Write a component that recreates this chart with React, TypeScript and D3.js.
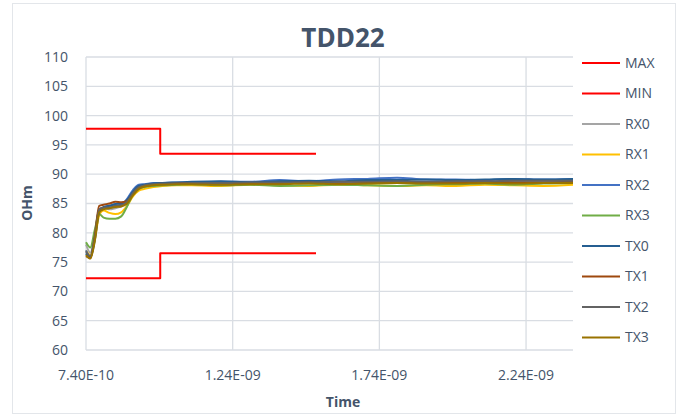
import * as d3 from 'd3'

// Time samples (seconds)
const TIMES = [
  7.40e-10, 7.55e-10, 7.70e-10, 7.85e-10, 8.00e-10, 8.20e-10, 8.40e-10, 8.60e-10,
  8.80e-10, 9.00e-10, 9.20e-10, 9.40e-10, 9.70e-10, 1.00e-9, 1.05e-9, 1.10e-9,
  1.20e-9, 1.30e-9, 1.40e-9, 1.50e-9, 1.60e-9, 1.70e-9, 1.80e-9, 1.90e-9,
  2.00e-9, 2.10e-9, 2.20e-9, 2.30e-9, 2.40e-9,
]

const RX0 = [78.0, 76.6, 80.0, 84.0, 84.2, 84.0, 84.2, 84.5, 85.5, 87.0, 87.9, 88.1, 88.2, 88.3, 88.4, 88.5, 88.4, 88.5, 88.6, 88.5, 88.6, 88.6, 88.7, 88.6, 88.7, 88.7, 88.8, 88.7, 88.7]
const RX1 = [77.0, 76.2, 78.8, 83.0, 83.8, 83.4, 83.2, 83.5, 84.6, 86.2, 87.2, 87.5, 87.8, 88.0, 88.1, 88.1, 88.0, 88.2, 88.1, 88.0, 88.2, 88.1, 88.0, 88.1, 88.0, 88.2, 88.1, 88.0, 88.2]
const RX2 = [77.0, 75.9, 79.5, 84.0, 84.3, 84.6, 84.6, 84.8, 85.8, 87.3, 88.2, 88.3, 88.5, 88.5, 88.6, 88.6, 88.7, 88.7, 89.0, 88.8, 89.1, 89.2, 89.4, 89.1, 89.1, 89.0, 89.2, 89.1, 89.2]
const RX3 = [78.4, 77.5, 80.5, 83.2, 82.6, 82.4, 82.4, 82.8, 84.5, 86.5, 87.5, 87.8, 88.0, 88.1, 88.2, 88.3, 88.1, 88.2, 88.0, 88.1, 88.2, 88.1, 88.0, 88.2, 88.3, 88.4, 88.2, 88.4, 88.5]
const TX0 = [76.5, 75.8, 78.8, 83.6, 84.4, 84.6, 84.9, 85.0, 85.6, 87.0, 88.0, 88.2, 88.4, 88.5, 88.6, 88.7, 88.8, 88.6, 88.8, 88.9, 88.8, 89.0, 89.0, 89.1, 89.0, 89.1, 89.2, 89.1, 89.2]
const TX1 = [76.0, 75.7, 79.5, 84.6, 84.8, 85.0, 85.3, 85.2, 85.4, 86.6, 87.6, 88.0, 88.2, 88.3, 88.4, 88.5, 88.4, 88.5, 88.5, 88.6, 88.4, 88.5, 88.6, 88.5, 88.6, 88.7, 88.6, 88.6, 88.7]
const TX2 = [76.8, 76.0, 79.2, 84.0, 84.3, 84.3, 84.6, 84.7, 85.3, 86.8, 87.8, 88.1, 88.3, 88.4, 88.4, 88.5, 88.5, 88.6, 88.6, 88.6, 88.7, 88.7, 88.8, 88.7, 88.8, 88.8, 88.9, 88.9, 88.9]
const TX3 = [76.2, 75.6, 78.6, 83.5, 84.0, 84.2, 84.4, 84.5, 85.0, 86.4, 87.5, 87.9, 88.1, 88.2, 88.3, 88.3, 88.2, 88.3, 88.3, 88.4, 88.3, 88.4, 88.5, 88.4, 88.4, 88.5, 88.4, 88.5, 88.5]

// Limit masks
const LIMIT_TIMES = [7.40e-10, 9.93e-10, 9.93e-10, 1.524e-9]
const MAX = [97.75, 97.75, 93.5, 93.5]
const MIN = [72.25, 72.25, 76.5, 76.5]

const SERIES = [
  { name: 'MAX', t: LIMIT_TIMES, v: MAX, color: '#FF0000', limit: true },
  { name: 'MIN', t: LIMIT_TIMES, v: MIN, color: '#FF0000', limit: true },
  { name: 'RX0', t: TIMES, v: RX0, color: '#A5A5A5' },
  { name: 'RX1', t: TIMES, v: RX1, color: '#FFC000' },
  { name: 'RX2', t: TIMES, v: RX2, color: '#4472C4' },
  { name: 'RX3', t: TIMES, v: RX3, color: '#70AD47' },
  { name: 'TX0', t: TIMES, v: TX0, color: '#255E91' },
  { name: 'TX1', t: TIMES, v: TX1, color: '#9E480E' },
  { name: 'TX2', t: TIMES, v: TX2, color: '#636363' },
  { name: 'TX3', t: TIMES, v: TX3, color: '#997300' },
]

const X_TICKS = [7.4e-10, 1.24e-9, 1.74e-9, 2.24e-9]
const Y_TICKS = [60, 65, 70, 75, 80, 85, 90, 95, 100, 105, 110]

const TEXT = '#44546A'
const GRID = '#D9DDE3'
const FONT = "'Open Sans', sans-serif"

const fmtExp = (v: number) => {
  const [m, e] = v.toExponential(2).toUpperCase().split('E')
  const sign = e[0] === '-' ? '-' : '+'
  const digits = e.replace(/[+-]/, '').padStart(2, '0')
  return `${m}E${sign === '-' ? '-' : ''}${digits}`
}

export default function App() {
  const width = 689
  const height = 417
  const x = d3.scaleLinear().domain([7.4e-10, 2.4e-9]).range([86, 573])
  const y = d3.scaleLinear().domain([60, 110]).range([350, 57])

  const line = (s: typeof SERIES[number]) =>
    d3.line<number>()
      .x((_, i) => x(s.t[i]))
      .y(d => y(d))
      .curve(s.limit ? d3.curveLinear : d3.curveMonotoneX)(s.v) || ''

  return (
    <div style={{ position: 'absolute', left: 0, top: 0 }}>
      <svg width={width} height={height} fontFamily={FONT}>
        <rect x={0} y={0} width={width} height={height} fill="#fff" />
        <rect x={12.5} y={3.5} width={663} height={410} fill="none" stroke="#E3E6EA" />

        <text x={343} y={47} textAnchor="middle" fontSize={26} fontWeight={700} fill={TEXT}>
          TDD22
        </text>

        {/* gridlines */}
        {Y_TICKS.map(t => (
          <line key={'gy' + t} x1={x.range()[0]} x2={x.range()[1]} y1={y(t)} y2={y(t)} stroke={GRID} strokeWidth={1.3} />
        ))}
        {X_TICKS.map(t => (
          <line key={'gx' + t} x1={x(t)} x2={x(t)} y1={y(110)} y2={y(60)} stroke={GRID} strokeWidth={1.3} />
        ))}

        {/* tick labels */}
        {Y_TICKS.map(t => (
          <text key={'ty' + t} x={68} y={y(t)} dy="0.35em" textAnchor="end" fontSize={14} fill={TEXT}>
            {t}
          </text>
        ))}
        {X_TICKS.map(t => (
          <text key={'tx' + t} x={x(t)} y={380} textAnchor="middle" fontSize={14} fill={TEXT}>
            {fmtExp(t)}
          </text>
        ))}

        <text x={343} y={407} textAnchor="middle" fontSize={14} fontWeight={700} fill={TEXT}>Time</text>
        <text transform="translate(32,203) rotate(-90)" textAnchor="middle" fontSize={14} fontWeight={700} fill={TEXT}>OHm</text>

        {/* series */}
        {SERIES.map(s => (
          <path key={s.name} d={line(s)} fill="none" stroke={s.color} strokeWidth={2} strokeLinejoin="round" />
        ))}

        {/* legend */}
        {SERIES.map((s, i) => {
          const ly = 63 + i * 30.5
          return (
            <g key={'lg' + s.name}>
              <line x1={582} x2={620} y1={ly} y2={ly} stroke={s.color} strokeWidth={2} />
              <text x={625} y={ly} dy="0.35em" fontSize={14} fill={TEXT}>{s.name}</text>
            </g>
          )
        })}
      </svg>
    </div>
  )
}
